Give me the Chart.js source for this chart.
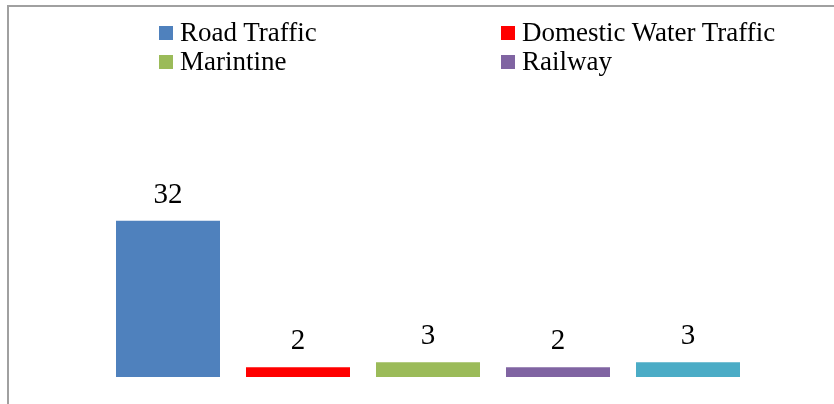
<!DOCTYPE html>
<html>
<head>
<meta charset="utf-8">
<script src="https://cdn.jsdelivr.net/npm/chart.js@4/dist/chart.umd.min.js"></script>
<style>
  html, body { margin: 0; padding: 0; background: #fff; overflow: hidden; }
  #wrap { position: relative; width: 834px; height: 404px; }
  #frame {
    position: absolute; left: 7px; top: 5px; width: 900px; height: 500px;
    border-left: 2px solid #a0a0a0; border-top: 2px solid #a0a0a0;
  }
  #chart { position: absolute; left: 0; top: 0; }
  #legend {
    position: absolute; left: 159px; top: 18px; height: 60px; overflow: hidden;
    display: grid; grid-template-columns: 342px 342px; grid-auto-rows: 29px;
    font: 27px "Liberation Serif", "Times New Roman", serif; color: #000;
  }
  .item { display: flex; align-items: center; white-space: nowrap; line-height: 29px; }
  .box { width: 14px; height: 14px; margin-right: 7px; flex: none; }
</style>
</head>
<body>
<div id="wrap">
  <div id="frame"></div>
  <canvas id="chart" width="834" height="404"></canvas>
  <div id="legend"></div>
</div>
<script>
const categories = ["Road Traffic", "Domestic Water Traffic", "Marintine", "Railway", "Aviation"];
const values = [32, 2, 3, 2, 3];
const colors = ["#4F81BD", "#FF0000", "#9BBB59", "#8064A2", "#4BACC6"];

// value labels above each bar
const barLabels = {
  id: "barLabels",
  afterDatasetsDraw(chart) {
    const ctx = chart.ctx;
    ctx.save();
    ctx.font = "29px 'Liberation Serif', 'Times New Roman', serif";
    ctx.fillStyle = "#000";
    ctx.textAlign = "center";
    ctx.textBaseline = "alphabetic";
    chart.getDatasetMeta(0).data.forEach((bar, i) => {
      ctx.fillText(String(values[i]), bar.x, bar.y - 18);
    });
    ctx.restore();
  }
};

const chart = new Chart(document.getElementById("chart"), {
  type: "bar",
  data: {
    labels: categories,
    datasets: [{
      data: values,
      backgroundColor: colors,
      borderWidth: 0,
      categoryPercentage: 0.8,
      barPercentage: 1
    }]
  },
  options: {
    responsive: false,
    animation: false,
    layout: { padding: { left: 103, right: 81, top: 206, bottom: 27 } },
    plugins: { legend: { display: false }, tooltip: { enabled: false } },
    scales: {
      x: { display: false },
      y: { display: false, min: 0, max: 35 }
    }
  },
  plugins: [barLabels]
});

// legend in two columns, one row per pair of categories
const legend = document.getElementById("legend");
categories.forEach((name, i) => {
  const item = document.createElement("div");
  item.className = "item";
  const box = document.createElement("span");
  box.className = "box";
  box.style.background = colors[i];
  item.appendChild(box);
  item.appendChild(document.createTextNode(name));
  legend.appendChild(item);
});
</script>
</body>
</html>
